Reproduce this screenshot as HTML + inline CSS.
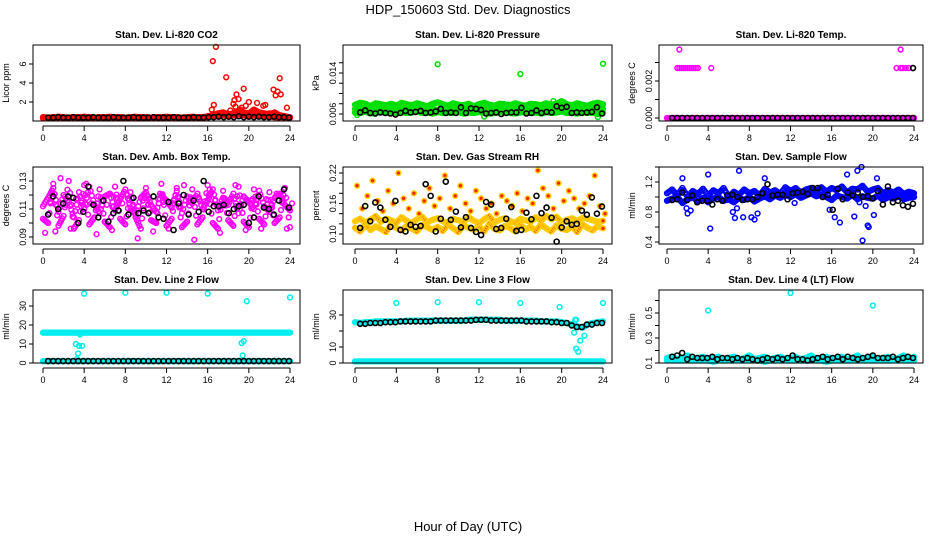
<!DOCTYPE html>
<html><head><meta charset="utf-8"><style>
html,body{margin:0;padding:0;background:#fff;}
svg{display:block;font-family:"Liberation Sans",sans-serif;}
</style></head><body>
<svg id="chart" width="936" height="540" viewBox="0 0 936 540" xmlns="http://www.w3.org/2000/svg">
<text x="468" y="14" text-anchor="middle" font-size="13">HDP_150603  Std. Dev. Diagnostics</text>
<text x="468" y="531" text-anchor="middle" font-size="13">Hour of Day (UTC)</text>
</svg>
<script>
const hourTicks = [0,4,8,12,16,20,24];
// CO2
const co2Base = [0.4,0.35,0.4,0.45,0.4,0.35,0.4,0.4,0.45,0.4,0.35,0.4,0.4,0.45,0.4,0.4,0.35,0.4,0.45,0.4,0.4,0.35,0.4,0.4,0.45,0.4,0.4,0.35,0.4,0.45,0.4,0.4,0.5,0.6,0.8,0.9,0.7,0.8,1.1,0.9,0.8,1.2,0.9,0.8,0.7,0.9,0.6,0.5,0.4];
const co2Base2 = [0.3,0.3,0.35,0.3,0.3,0.35,0.3,0.3,0.3,0.35,0.3,0.3,0.3,0.35,0.3,0.3,0.3,0.35,0.3,0.3,0.3,0.35,0.3,0.3,0.3,0.35,0.3,0.3,0.3,0.35,0.3,0.4,0.4,0.5,0.5,0.6,0.5,0.6,0.7,0.6,0.5,0.6,0.6,0.5,0.5,0.4,0.4,0.4,0.35];
const co2OutX = [16.5,16.8,16.6,16.4,17.8,17.9,18.6,18.8,18.7,19.0,19.2,19.5,19.7,20.0,20.3,20.8,21.4,21.6,22.4,22.6,22.8,23.0,23.1,23.7,18.2,21.0,22.0,18.5,19.3,20.5];
const co2OutY = [6.3,7.8,1.7,1.2,4.6,0.8,2.2,2.8,1.5,2.3,1.2,3.4,1.6,2.0,1.0,1.9,1.6,1.7,3.3,2.7,3.1,4.5,2.8,1.4,1.1,0.9,0.8,1.8,1.4,1.2];
const co2Black = [0.35,0.35,0.4,0.35,0.35,0.4,0.35,0.35,0.35,0.4,0.35,0.35,0.35,0.4,0.35,0.35,0.35,0.4,0.35,0.35,0.35,0.4,0.35,0.35,0.35,0.4,0.35,0.35,0.35,0.4,0.35,0.35,0.4,0.4,0.45,0.4,0.45,0.4,0.5,0.4,0.45,0.4,0.45,0.4,0.4,0.45,0.4,0.4,0.35];
// Pressure
const presLo = [0.0063,0.0062,0.0065,0.0061,0.0063,0.0064,0.0062,0.0063,0.0061,0.0064,0.0062,0.0063,0.0065,0.0062,0.0063,0.0061,0.0064,0.0062,0.0063,0.0062,0.0064,0.0061,0.0063,0.0062,0.0064,0.0063,0.0061,0.0062,0.0064,0.0063,0.0062,0.0061,0.0063,0.0064,0.0062,0.0063,0.0061,0.0064,0.0062,0.0063,0.0065,0.0062,0.0063,0.0061,0.0064,0.0062,0.0063,0.0060,0.0062];
const presHi = [0.0078,0.0082,0.0080,0.0075,0.0081,0.0079,0.0077,0.0080,0.0076,0.0082,0.0079,0.0077,0.0081,0.0078,0.0075,0.0080,0.0083,0.0079,0.0076,0.0081,0.0078,0.0077,0.0080,0.0075,0.0079,0.0082,0.0078,0.0076,0.0080,0.0079,0.0077,0.0081,0.0078,0.0076,0.0080,0.0079,0.0077,0.0081,0.0078,0.0080,0.0085,0.0079,0.0077,0.0081,0.0078,0.0076,0.0080,0.0082,0.0079];
const presMid = [0.0070,0.0072,0.0069,0.0071,0.0068,0.0072,0.0070,0.0069,0.0071,0.0072,0.0068,0.0070,0.0071,0.0069,0.0072,0.0070,0.0068,0.0071,0.0070,0.0072,0.0069,0.0071,0.0070,0.0068,0.0072,0.0070,0.0069,0.0071,0.0070,0.0072,0.0069,0.0070,0.0071,0.0068,0.0072,0.0070,0.0069,0.0071,0.0070,0.0072,0.0069,0.0071,0.0070,0.0068,0.0072,0.0070,0.0069,0.0071,0.0070];
const presOutX = [8.0,16.0,24.0,0.2,12.5,23.5,19.2];
const presOutY = [0.0157,0.0138,0.0158,0.0058,0.0055,0.0054,0.0085];
const presBlack = [0.0063,0.0067,0.0062,0.0061,0.0063,0.0062,0.0061,0.0059,0.0062,0.0066,0.0063,0.0064,0.0066,0.0062,0.0063,0.0065,0.0070,0.0062,0.0063,0.0062,0.0073,0.0062,0.0071,0.0070,0.0068,0.0061,0.0062,0.0063,0.0060,0.0062,0.0063,0.0063,0.0072,0.0061,0.0062,0.0067,0.0062,0.0064,0.0063,0.0075,0.0072,0.0074,0.0062,0.0063,0.0062,0.0063,0.0064,0.0073,0.0061];
// Li-820 temp
const tBase = [0,0,0,0,0,0,0,0,0,0,0,0,0,0,0,0,0,0,0,0,0,0,0,0,0,0,0,0,0,0,0,0,0,0,0,0,0,0,0,0,0,0,0,0,0,0,0,0,0];
const tOutX = [1.0,1.2,1.4,1.6,1.8,2.0,2.2,2.4,2.6,2.8,3.0,4.3,1.2,22.3,22.7,22.9,23.2,23.5,22.7];
const tOutY = [0.0027,0.0027,0.0027,0.0027,0.0027,0.0027,0.0027,0.0027,0.0027,0.0027,0.0027,0.0027,0.0037,0.0027,0.0027,0.0027,0.0027,0.0027,0.0037];
const tBlackX = [23.9];
const tBlackY = [0.0027];
// Amb box temp
const ambA = [0.112,0.118,0.125,0.108,0.120,0.115,0.104,0.122,0.110,0.126,0.113,0.107,0.119,0.121,0.109,0.117,0.124,0.111,0.106,0.118,0.122,0.113,0.108,0.120,0.116,0.111,0.123,0.107,0.119,0.114,0.121,0.110,0.116,0.124,0.109,0.118,0.113,0.121,0.107,0.119,0.115,0.110,0.123,0.112,0.108,0.118,0.121,0.113,0.109];
const ambB = [0.103,0.100,0.128,0.098,0.105,0.130,0.096,0.102,0.127,0.099,0.104,0.124,0.101,0.097,0.126,0.103,0.099,0.122,0.104,0.096,0.125,0.102,0.100,0.128,0.098,0.103,0.125,0.097,0.101,0.124,0.099,0.104,0.127,0.100,0.096,0.123,0.102,0.098,0.126,0.101,0.097,0.124,0.103,0.099,0.122,0.100,0.104,0.125,0.097];
const ambC = [0.093,0.115,0.094,0.132,0.113,0.096,0.117,0.112,0.128,0.114,0.092,0.116,0.113,0.095,0.118,0.114,0.120,0.112,0.089,0.116,0.113,0.094,0.117,0.115,0.096,0.116,0.112,0.127,0.115,0.088,0.117,0.113,0.124,0.116,0.093,0.114,0.117,0.127,0.113,0.095,0.116,0.114,0.096,0.117,0.113,0.121,0.115,0.096,0.114];
const ambBlack = [0.106,0.119,0.110,0.114,0.119,0.118,0.100,0.108,0.126,0.113,0.104,0.116,0.101,0.107,0.109,0.130,0.106,0.118,0.107,0.109,0.107,0.119,0.104,0.103,0.115,0.095,0.114,0.120,0.106,0.116,0.108,0.130,0.108,0.112,0.112,0.113,0.107,0.110,0.112,0.113,0.100,0.104,0.119,0.111,0.110,0.106,0.116,0.124,0.111];
// RH
const rhLo = [0.112,0.105,0.118,0.108,0.115,0.110,0.104,0.120,0.112,0.107,0.116,0.110,0.105,0.118,0.113,0.108,0.114,0.106,0.119,0.111,0.104,0.117,0.112,0.108,0.115,0.105,0.120,0.110,0.107,0.116,0.112,0.105,0.118,0.109,0.114,0.106,0.119,0.111,0.105,0.117,0.110,0.108,0.115,0.104,0.119,0.112,0.107,0.116,0.111];
const rhMid = [0.125,0.130,0.122,0.128,0.135,0.124,0.130,0.127,0.122,0.133,0.126,0.121,0.129,0.134,0.123,0.128,0.131,0.125,0.122,0.130,0.127,0.124,0.133,0.126,0.121,0.129,0.135,0.123,0.128,0.131,0.125,0.122,0.130,0.127,0.124,0.133,0.126,0.136,0.129,0.134,0.123,0.128,0.131,0.125,0.132,0.130,0.127,0.124,0.126];
const rhHi = [0.195,0.150,0.175,0.205,0.165,0.145,0.185,0.160,0.220,0.170,0.150,0.180,0.140,0.165,0.190,0.155,0.170,0.215,0.150,0.175,0.195,0.160,0.145,0.185,0.170,0.150,0.160,0.140,0.175,0.165,0.155,0.180,0.145,0.170,0.160,0.225,0.190,0.175,0.150,0.200,0.165,0.185,0.170,0.150,0.160,0.175,0.215,0.155,0.140];
const rhBlack = [0.112,0.155,0.125,0.162,0.152,0.128,0.114,0.165,0.108,0.105,0.118,0.114,0.116,0.198,0.175,0.105,0.130,0.203,0.128,0.144,0.113,0.133,0.112,0.104,0.098,0.163,0.158,0.110,0.112,0.130,0.153,0.106,0.108,0.142,0.129,0.175,0.141,0.152,0.132,0.085,0.113,0.125,0.118,0.120,0.146,0.138,0.172,0.140,0.154];
// Sample flow
const sfA = [1.05,1.10,1.02,1.12,1.00,1.08,1.04,1.11,1.02,1.09,1.05,1.12,1.00,1.07,1.03,1.10,1.05,1.08,1.02,1.11,1.06,1.09,1.04,1.13,1.08,1.12,1.06,1.10,1.12,1.08,1.13,1.07,1.12,1.09,1.14,1.06,1.11,1.10,1.15,1.07,1.10,1.12,1.05,1.09,1.06,1.10,1.04,1.07,1.05];
const sfB = [0.95,0.98,1.00,0.92,0.97,1.00,0.94,0.99,0.93,0.98,1.00,0.95,0.97,0.93,0.99,0.96,1.00,0.94,0.98,1.01,0.97,1.02,0.99,1.03,1.00,1.04,0.99,1.02,1.05,1.01,1.03,1.00,0.96,1.02,1.00,0.98,1.03,0.97,1.01,0.99,0.98,1.02,0.96,1.00,0.98,1.01,0.97,0.99,1.00];
const sfOutX = [1.5,1.9,2.0,2.3,4.0,4.2,6.4,6.6,6.8,7.0,7.4,8.2,8.5,8.8,9.5,12.4,15.8,16.3,16.8,17.5,18.2,18.5,18.9,19.0,19.3,19.5,19.6,20.1,20.4,18.7];
const sfOutY = [1.25,0.85,0.78,0.82,1.30,0.58,0.80,0.72,0.85,1.35,0.73,0.73,0.70,0.78,1.25,0.92,0.83,0.73,0.66,1.30,0.74,1.35,1.40,0.42,0.88,0.62,0.60,0.76,1.25,0.93];
const sfBlack = [0.96,0.97,1.06,0.96,1.02,0.93,0.95,0.95,0.90,0.97,0.95,1.02,1.03,1.00,0.96,0.97,0.97,1.00,1.05,1.17,1.02,1.03,1.03,0.97,1.05,1.06,1.07,1.04,1.12,1.12,1.00,1.03,0.83,1.11,0.97,1.06,1.02,1.06,1.00,1.01,0.98,1.08,0.90,1.14,0.93,0.95,0.89,0.87,0.91];
// Line 2
const l2Main = [16,16,16,16,16,16,16,16,16,16,16,16,16,16,16,16,16,16,16,16,16,16,16,16,16,16,16,16,16,16,16,16,16,16,16,16,16,16,16,16,16,16,16,16,16,16,16,16,16];
const l2Zero = [1,1,1,1,1,1,1,1,1,1,1,1,1,1,1,1,1,1,1,1,1,1,1,1,1,1,1,1,1,1,1,1,1,1,1,1,1,1,1,1,1,1,1,1,1,1,1,1,1];
const l2OutX = [4.0,8.0,12.0,16.0,19.8,24.0,3.2,3.5,3.8,3.4,3.3,19.3,19.5,19.4,3.6];
const l2OutY = [36.5,37,37,36.5,32.5,34.5,10,9,9,5,2,10.5,11.5,4,15];
const l2Black = [1,1,1,1,1,1,1,1,1,1,1,1,1,1,1,1,1,1,1,1,1,1,1,1,1,1,1,1,1,1,1,1,1,1,1,1,1,1,1,1,1,1,1,1,1,1,1,1,1];
// Line 3
const l3Main = [25.5,25,25.5,25.5,26,26,26,26,26,26,26.5,26.5,26.5,26.5,26.5,26.5,26.5,26.5,26.5,26.5,26.5,26.5,27,27,27,27,27,27,27,26.5,26.5,26.5,26.5,26.5,26.5,26.5,26,26,26,26,25.5,25,24,23,22,24,25,25.5,26];
const l3Zero = [1,1,1,1,1,1,1,1,1,1,1,1,1,1,1,1,1,1,1,1,1,1,1,1,1,1,1,1,1,1,1,1,1,1,1,1,1,1,1,1,1,1,1,1,1,1,1,1,1];
const l3OutX = [4.0,8.0,12.0,16.0,19.8,24.0,21.2,21.4,21.6,21.8,21.5,21.3,22.2,21.4];
const l3OutY = [37.5,38,38,37.5,35,37.5,19,9,7,14,23,27,17,27];
const l3Black = [24.5,24.5,25,25,25,25.5,25.5,25.5,26,26,26,26,26,26,26,26.5,26.5,26.5,26.5,26.5,26.5,26.5,26.5,27,27,27,26.5,26.5,26.5,26.5,26.5,26.5,26.5,26,26,26,26,26,25.5,25.5,25,25,23.5,22.5,22.5,24,24,25,25];
// Line 4
const l4Main = [0.14,0.15,0.13,0.14,0.16,0.13,0.14,0.15,0.13,0.14,0.15,0.13,0.14,0.15,0.13,0.14,0.16,0.13,0.14,0.15,0.13,0.14,0.15,0.13,0.14,0.15,0.13,0.14,0.16,0.13,0.14,0.15,0.13,0.14,0.15,0.13,0.14,0.16,0.13,0.14,0.15,0.13,0.14,0.15,0.13,0.14,0.16,0.13,0.15];
const l4Lo = [0.12,0.12,0.12,0.12,0.12,0.12,0.12,0.12,0.12,0.11,0.12,0.12,0.12,0.12,0.12,0.12,0.12,0.12,0.12,0.11,0.12,0.12,0.12,0.12,0.12,0.12,0.12,0.12,0.12,0.12,0.12,0.11,0.12,0.12,0.12,0.12,0.12,0.12,0.12,0.12,0.12,0.12,0.12,0.12,0.12,0.12,0.12,0.12,0.12];
const l4OutX = [4.0,12.0,20.0];
const l4OutY = [0.52,0.66,0.56];
const l4Black = [0.15,0.16,0.18,0.13,0.15,0.14,0.14,0.14,0.15,0.13,0.14,0.14,0.13,0.14,0.13,0.14,0.13,0.12,0.13,0.14,0.13,0.14,0.13,0.14,0.16,0.13,0.13,0.12,0.13,0.14,0.15,0.13,0.14,0.15,0.13,0.15,0.14,0.13,0.14,0.15,0.16,0.14,0.14,0.14,0.15,0.13,0.14,0.15,0.14];

const SVGNS = "http://www.w3.org/2000/svg";
const svg = document.getElementById('chart');
function mk(tag, attrs, parent){ const e=document.createElementNS(SVGNS,tag); for(const k in attrs) e.setAttribute(k,attrs[k]); (parent||svg).appendChild(e); return e; }

const cols = [{l:33,r:300,x0:43,x1:290},{l:343,r:612,x0:355,x1:603},{l:659,r:923,x0:667,x1:914}];
const rows = [{t:45,b:121},{t:167,b:244},{t:290,b:363}];

const panels = [
 {name:'co2',title:'Stan. Dev. Li-820 CO2',yl:'Licor ppm',c:0,r:0,v0:0,p0:121,v1:6,p1:64,ticks:[2,4,6],labels:[2,4,6],fmt:v=>String(v),col:'#ff0000',
  series:[co2Base,co2Base2],ox:co2OutX,oy:co2OutY,black:co2Black},
 {name:'pressure',title:'Stan. Dev. Li-820 Pressure',yl:'kPa',c:1,r:0,v0:0.006,p0:114,v1:0.014,p1:73,ticks:[0.006,0.008,0.010,0.012,0.014,0.016],labels:[0.006,0.014],fmt:v=>v.toFixed(3),col:'#00e000',
  series:[presLo,presMid,presHi],ox:presOutX,oy:presOutY,black:presBlack},
 {name:'temp',title:'Stan. Dev. Li-820 Temp.',yl:'degrees C',c:2,r:0,v0:0,p0:118,v1:0.002,p1:81,ticks:[0,0.001,0.002,0.003],labels:[0,0.002],fmt:v=>v.toFixed(3),col:'#ff00ff',
  series:[tBase],ox:tOutX,oy:tOutY,black:tBase,bx:tBlackX,by:tBlackY},
 {name:'amb-box-temp',title:'Stan. Dev. Amb. Box Temp.',yl:'degrees C',c:0,r:1,v0:0.09,p0:237,v1:0.13,p1:181,ticks:[0.09,0.10,0.11,0.12,0.13],labels:[0.09,0.11,0.13],fmt:v=>v.toFixed(2),col:'#ff00ff',
  series:[ambA,ambB],sparse:[ambC],ox:[],oy:[],black:ambBlack},
 {name:'gas-stream-rh',title:'Stan. Dev. Gas Stream RH',yl:'percent',c:1,r:1,v0:0.10,p0:234,v1:0.22,p1:173,ticks:[0.10,0.12,0.14,0.16,0.18,0.20,0.22],labels:[0.10,0.16,0.22],fmt:v=>v.toFixed(2),col:'#ffcc00',inner:'#ff2200',
  series:[rhLo,rhMid],sparse:[rhHi],ox:[],oy:[],black:rhBlack},
 {name:'sample-flow',title:'Stan. Dev. Sample Flow',yl:'ml/min',c:2,r:1,v0:0.4,p0:242,v1:1.2,p1:182,ticks:[0.4,0.6,0.8,1.0,1.2,1.4],labels:[0.4,0.8,1.2],fmt:v=>v.toFixed(1),col:'#0000ff',
  series:[sfA,sfB],ox:sfOutX,oy:sfOutY,black:sfBlack},
 {name:'line2-flow',title:'Stan. Dev. Line 2 Flow',yl:'ml/min',c:0,r:2,v0:0,p0:363,v1:30,p1:306,ticks:[0,10,20,30],labels:[0,10,20,30],fmt:v=>String(v),col:'#00eeee',
  series:[l2Main,l2Zero],ox:l2OutX,oy:l2OutY,black:l2Black},
 {name:'line3-flow',title:'Stan. Dev. Line 3 Flow',yl:'ml/min',c:1,r:2,v0:0,p0:363,v1:30,p1:315,ticks:[0,10,20,30],labels:[0,10,30],fmt:v=>String(v),col:'#00eeee',
  series:[l3Main,l3Zero],ox:l3OutX,oy:l3OutY,black:l3Black},
 {name:'line4-flow',title:'Stan. Dev. Line 4 (LT) Flow',yl:'ml/min',c:2,r:2,v0:0.1,p0:363,v1:0.5,p1:313,ticks:[0.1,0.2,0.3,0.4,0.5,0.6],labels:[0.1,0.3,0.5],fmt:v=>v.toFixed(1),col:'#00eeee',
  series:[l4Main,l4Lo],ox:l4OutX,oy:l4OutY,black:l4Black}
];

panels.forEach(p=>{
  const C=cols[p.c], R=rows[p.r];
  const g=mk('g',{});
  
  
  const xs=h=>C.x0+(C.x1-C.x0)*h/24;
  const ys=v=>p.p0+(p.p1-p.p0)*(v-p.v0)/(p.v1-p.v0);
  const t=mk('text',{x:(C.l+C.r)/2,y:R.t-7,'text-anchor':'middle','font-size':'10','font-weight':'bold'},g);
  t.textContent=p.title;
  
  
  const yl=mk('text',{x:0,y:0,'text-anchor':'middle','font-size':'9',transform:`translate(${C.l-24},${(R.t+R.b)/2}) rotate(-90)`},g);
  yl.textContent=p.yl;
  
  
  p.ticks.forEach(v=>{
    const y=ys(v); if(y<R.t-6||y>R.b+6) return;
    mk('line',{x1:C.l-4,x2:C.l,y1:y,y2:y,stroke:'#000','stroke-width':1},g);
  });
  p.labels.forEach(v=>{
    const y=ys(v);
    const lt=mk('text',{x:0,y:0,'text-anchor':'middle','font-size':'9',transform:`translate(${C.l-7},${y}) rotate(-90)`},g);
    lt.textContent=p.fmt(v);
    
    
  });
  const ay=R.b+5;
  mk('line',{x1:xs(0),x2:xs(24),y1:ay,y2:ay,stroke:'#000','stroke-width':1},g);
  hourTicks.forEach(h=>{
    mk('line',{x1:xs(h),x2:xs(h),y1:ay,y2:ay+5,stroke:'#000','stroke-width':1},g);
    const xt=mk('text',{x:xs(h),y:ay+15,'text-anchor':'middle','font-size':'9'},g);
    xt.textContent=String(h);
    
    
  });
  const clip='clip-'+p.name;
  const cp=mk('clipPath',{id:clip},g); mk('rect',{x:C.l,y:R.t-3,width:C.r-C.l,height:R.b-R.t+6},cp);
  const dg=mk('g',{'clip-path':`url(#${clip})`},g);
  const pt=(x,y,color,nm)=>{
    const c=mk('circle',{cx:x,cy:y,r:2.4,fill:p.inner||'none',stroke:color,'stroke-width':1.5},dg);
    
    
  };
  p.series.forEach(s=>{
    const step=24/(s.length-1);
    s.forEach((v,i)=>{
      const h=i*step;
      pt(xs(h),ys(v),p.col,p.name+'-point');
      if(i<s.length-1){
        for(let k=1;k<4;k++){ const f=k/4; pt(xs(h+step*f),ys(v+(s[i+1]-v)*f),p.col,p.name+'-point'); }
      }
    });
  });
  (p.sparse||[]).forEach(s=>{
    const step=24/(s.length-1);
    s.forEach((v,i)=>pt(xs(i*step+0.2),ys(v),p.col,p.name+'-point'));
  });
  p.ox.forEach((h,i)=>pt(xs(h),ys(p.oy[i]),p.col,p.name+'-outlier'));
  const bc=(x,y)=>{
    const c=mk('circle',{cx:x,cy:y,r:2.5,fill:'none',stroke:'#000','stroke-width':1.6},dg);
    
    
  };
  p.black.forEach((v,i)=>bc(xs(0.5+i*23.4/(p.black.length-1)),ys(v)));
  if(p.bx) p.bx.forEach((h,i)=>bc(xs(h),ys(p.by[i])));
  const box=mk('rect',{x:C.l,y:R.t,width:C.r-C.l,height:R.b-R.t,fill:'none',stroke:'#000','stroke-width':1},g);
  
  
});
</script>
</body></html>
